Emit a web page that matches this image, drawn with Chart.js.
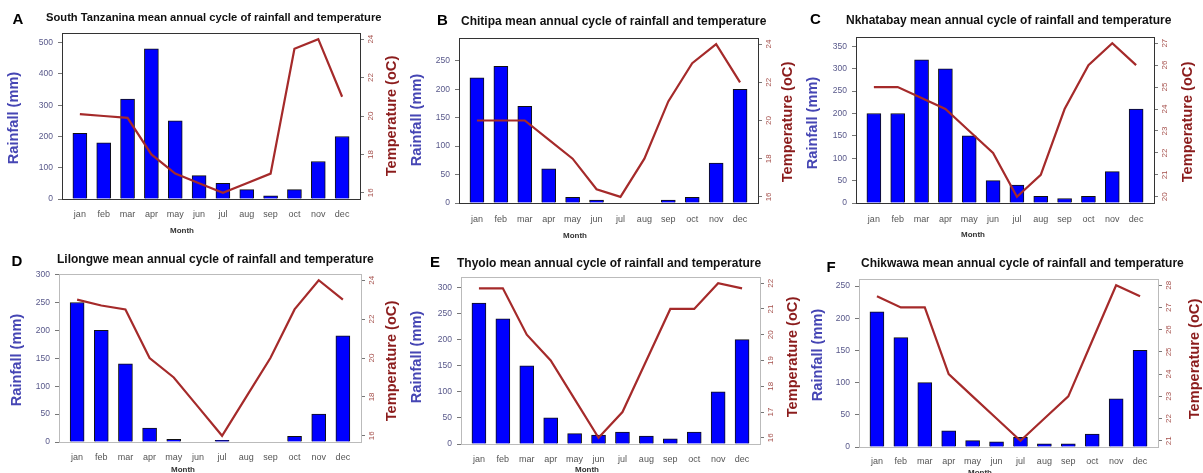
<!DOCTYPE html>
<html>
<head>
<meta charset="utf-8">
<title>Mean annual cycle of rainfall and temperature</title>
<script src="https://cdn.jsdelivr.net/npm/chart.js@4.4.1/dist/chart.umd.min.js"></script>
<style>
  html, body { margin: 0; padding: 0; background: #fff; }
  body { position: relative; width: 1203px; height: 473px; overflow: hidden; }
  canvas { position: absolute; display: block; }
</style>
</head>
<body>
<canvas id="cA"></canvas>
<canvas id="cB"></canvas>
<canvas id="cC"></canvas>
<canvas id="cD"></canvas>
<canvas id="cE"></canvas>
<canvas id="cF"></canvas>
<script>
// ---- data ----
const months = ['jan', 'feb', 'mar', 'apr', 'may', 'jun', 'jul', 'aug', 'sep', 'oct', 'nov', 'dec'];
const letters = ['A', 'B', 'C', 'D', 'E', 'F'];
const stations = ['South Tanzanina', 'Chitipa', 'Nkhatabay', 'Lilongwe', 'Thyolo', 'Chikwawa'];
const titleSuffix = ' mean annual cycle of rainfall and temperature';
const rainLabel = 'Rainfall (mm)';
const tempLabel = 'Temperature (oC)';
const xLabel = 'Month';

// monthly rainfall (mm)
const rainA = [210, 180, 320, 480, 250, 75, 50, 30, 10, 30, 120, 200];
const rainB = [220, 240, 170, 60, 10, 5, 0, 0, 5, 10, 70, 200];
const rainC = [200, 200, 320, 300, 150, 50, 40, 15, 10, 15, 70, 210];
const rainD = [250, 200, 140, 25, 5, 0, 3, 0, 0, 10, 50, 190];
const rainE = [270, 240, 150, 50, 20, 17, 23, 15, 10, 23, 100, 200];
const rainF = [210, 170, 100, 25, 10, 8, 15, 5, 5, 20, 75, 150];

// monthly mean temperature (oC)
const tempA = [20.1, 20.0, 19.9, 18.0, 17.0, 16.5, 16.0, 16.5, 17.0, 23.5, 24.0, 21.0];
const tempB = [20, 20, 20, 19, 18, 16.4, 16, 18, 21, 23, 24, 22];
const tempC = [25, 25, 24.5, 24, 23, 22, 20, 21, 24, 26, 27, 26];
const tempD = [23, 22.7, 22.5, 20, 19, 17.5, 16, 18, 20, 22.5, 24, 23];
const tempE = [21.8, 21.8, 20, 19, 17.5, 16, 17, 19, 21, 21, 22, 21.8];
const tempF = [27.5, 27, 27, 24, 23, 22, 21, 22, 23, 25.5, 28, 27.5];

// axis tick values
const rainTicksA = [0, 100, 200, 300, 400, 500];
const rainTicksB = [0, 50, 100, 150, 200, 250];
const rainTicksC = [0, 50, 100, 150, 200, 250, 300, 350];
const rainTicksD = [0, 50, 100, 150, 200, 250, 300];
const rainTicksE = [0, 50, 100, 150, 200, 250, 300];
const rainTicksF = [0, 50, 100, 150, 200, 250];
const tempTicksA = [16, 18, 20, 22, 24];
const tempTicksB = [16, 18, 20, 22, 24];
const tempTicksC = [20, 21, 22, 23, 24, 25, 26, 27];
const tempTicksD = [16, 18, 20, 22, 24];
const tempTicksE = [16, 17, 18, 19, 20, 21, 22];
const tempTicksF = [21, 22, 23, 24, 25, 26, 27, 28];

// ---- panel layout (page pixels) ----
const panels = [
  { id: 'cA', rain: rainA, temp: tempA, rainTicks: rainTicksA, tempTicks: tempTicksA, rainMax: 531,
    x0: 0, y0: 0, w: 400, h: 240, box: [62, 33, 360, 199], frame: '#333',
    letterAt: [18, 20], titleAt: [46, 18], titleSize: 11.2, rainAt: [14, 118], tempAt: [392, 116], monthAt: [182, 231], xPad: 9.9 },
  { id: 'cB', rain: rainB, temp: tempB, rainTicks: rainTicksB, tempTicks: tempTicksB, rainMax: 290,
    x0: 400, y0: 0, w: 400, h: 240, box: [459, 38, 758, 203], frame: '#333',
    letterAt: [442.5, 21], titleAt: [461, 21.7], titleSize: 12, rainAt: [417, 120], tempAt: [788, 122], monthAt: [575, 235.7], xPad: 11.6 },
  { id: 'cC', rain: rainC, temp: tempC, rainTicks: rainTicksC, tempTicks: tempTicksC, rainMax: 371,
    x0: 800, y0: 0, w: 403, h: 240, box: [856, 37, 1154, 203], frame: '#333',
    letterAt: [815.5, 20], titleAt: [846, 21], titleSize: 12, rainAt: [813, 123], tempAt: [1188, 122], monthAt: [973, 235], xPad: 11.6 },
  { id: 'cD', rain: rainD, temp: tempD, rainTicks: rainTicksD, tempTicks: tempTicksD, rainMax: 301,
    x0: 0, y0: 240, w: 400, h: 233, box: [59, 274, 361, 442], frame: '#bbb',
    letterAt: [17, 261.7], titleAt: [57, 259.5], titleSize: 12, rainAt: [17, 360], tempAt: [392, 361], monthAt: [183, 469.3], xPad: 9.9 },
  { id: 'cE', rain: rainE, temp: tempE, rainTicks: rainTicksE, tempTicks: tempTicksE, rainMax: 320,
    x0: 400, y0: 240, w: 400, h: 233, box: [461, 277, 760, 444], frame: '#bbb',
    letterAt: [435, 263.3], titleAt: [457, 263.3], titleSize: 12, rainAt: [417, 357], tempAt: [793, 357], monthAt: [587, 470], xPad: 10.6 },
  { id: 'cF', rain: rainF, temp: tempF, rainTicks: rainTicksF, tempTicks: tempTicksF, rainMax: 261,
    x0: 800, y0: 240, w: 403, h: 233, box: [859, 279, 1158, 447], frame: '#bbb',
    letterAt: [831, 268.3], titleAt: [861, 263.3], titleSize: 12, rainAt: [818, 355], tempAt: [1195, 359], monthAt: [980, 472.7], xPad: 9.3 }
];

const FONT = '"Liberation Sans", Arial, Helvetica, sans-serif';

// frame around the plot region plus the panel letter, title and axis titles
const panelDecor = {
  id: 'panelDecor',
  afterDraw(chart, args, o) {
    const ctx = chart.ctx;
    const ca = chart.chartArea;
    const p = o.panel;
    const dx = p.x0, dy = p.y0;
    ctx.save();
    ctx.strokeStyle = p.frame;
    ctx.lineWidth = 1;
    ctx.strokeRect(Math.round(ca.left) + 0.5, Math.round(ca.top) + 0.5,
                   Math.round(ca.right - ca.left), Math.round(ca.bottom - ca.top));

    ctx.fillStyle = '#000';
    ctx.textAlign = 'center';
    ctx.textBaseline = 'middle';
    ctx.font = 'bold 15px ' + FONT;
    ctx.fillText(o.letter, p.letterAt[0] - dx, p.letterAt[1] - dy);

    ctx.fillStyle = '#111';
    ctx.textAlign = 'left';
    ctx.font = 'bold ' + p.titleSize + 'px ' + FONT;
    ctx.fillText(o.title, p.titleAt[0] - dx, p.titleAt[1] - dy);

    ctx.textAlign = 'center';
    ctx.font = 'bold 14.6px ' + FONT;
    ctx.save();
    ctx.translate(p.rainAt[0] - dx, p.rainAt[1] - dy);
    ctx.rotate(-Math.PI / 2);
    ctx.fillStyle = '#4646b4';
    ctx.fillText(rainLabel, 0, 0);
    ctx.restore();

    ctx.save();
    ctx.translate(p.tempAt[0] - dx, p.tempAt[1] - dy);
    ctx.rotate(-Math.PI / 2);
    ctx.fillStyle = '#8b1c1c';
    ctx.fillText(tempLabel, 0, 0);
    ctx.restore();

    ctx.fillStyle = '#333';
    ctx.font = 'bold 8px ' + FONT;
    ctx.fillText(xLabel, p.monthAt[0] - dx, p.monthAt[1] - dy);
    ctx.restore();
  }
};

function buildPanel(p, k) {
  const canvas = document.getElementById(p.id);
  canvas.width = p.w;
  canvas.height = p.h;
  canvas.style.left = p.x0 + 'px';
  canvas.style.top = p.y0 + 'px';

  const [L, T, R, B] = p.box;
  const leftW = L - p.x0;
  const rightW = p.x0 + p.w - R;
  const bottomH = p.y0 + p.h - B;

  // temperature axis spans the data range with a 4% margin on each side
  const tLo = Math.min(...p.temp), tHi = Math.max(...p.temp);
  const tPad = 0.04 * (tHi - tLo);

  new Chart(canvas, {
    type: 'bar',
    data: {
      datasets: [
        {
          type: 'line',
          label: 'Temperature',
          data: p.temp.map((v, i) => ({ x: i, y: v })),
          yAxisID: 'yT',
          borderColor: '#a52a2a',
          borderWidth: 2.2,
          pointRadius: 0,
          tension: 0,
          order: 0
        },
        {
          type: 'bar',
          label: 'Rainfall',
          data: p.rain.map((v, i) => ({ x: i, y: v })),
          yAxisID: 'yR',
          backgroundColor: '#0000ff',
          borderColor: '#111',
          borderWidth: 1,
          barThickness: 14,
          order: 1
        }
      ]
    },
    options: {
      responsive: false,
      animation: false,
      devicePixelRatio: 1,
      layout: { padding: { left: 0, right: 0, top: T - p.y0, bottom: 0 } },
      plugins: {
        legend: { display: false },
        tooltip: { enabled: false },
        panelDecor: { panel: p, letter: letters[k], title: stations[k] + titleSuffix }
      },
      scales: {
        x: {
          type: 'linear',
          offset: false,
          min: -0.75,
          max: 11.75,
          afterBuildTicks: s => { s.ticks = months.map((m, i) => ({ value: i })); },
          afterFit: s => { s.height = bottomH; },
          ticks: {
            autoSkip: false,
            maxRotation: 0,
            padding: p.xPad,
            color: '#555',
            font: { family: FONT, size: 9 },
            callback: v => months[v]
          },
          grid: { display: false, drawTicks: false },
          border: { display: false }
        },
        yR: {
          position: 'left',
          min: 0,
          max: p.rainMax,
          afterBuildTicks: s => { s.ticks = p.rainTicks.map(v => ({ value: v })); },
          afterFit: s => { s.width = leftW; },
          ticks: {
            autoSkip: false,
            padding: 5,
            color: '#58588a',
            font: { family: FONT, size: 8.5 }
          },
          grid: { drawOnChartArea: false, drawTicks: true, tickLength: 4, color: '#777' },
          border: { display: false }
        },
        yT: {
          position: 'right',
          min: tLo - tPad,
          max: tHi + tPad,
          afterBuildTicks: s => { s.ticks = p.tempTicks.map(v => ({ value: v })); },
          afterFit: s => { s.width = rightW; },
          ticks: {
            autoSkip: false,
            minRotation: 90,
            maxRotation: 90,
            crossAlign: 'center',
            padding: 2,
            color: '#a5504c',
            font: { family: FONT, size: 8 }
          },
          grid: { drawOnChartArea: false, drawTicks: true, tickLength: 4, color: '#777' },
          border: { display: false }
        }
      }
    },
    plugins: [panelDecor]
  });
}

panels.forEach(buildPanel);
</script>
</body>
</html>
